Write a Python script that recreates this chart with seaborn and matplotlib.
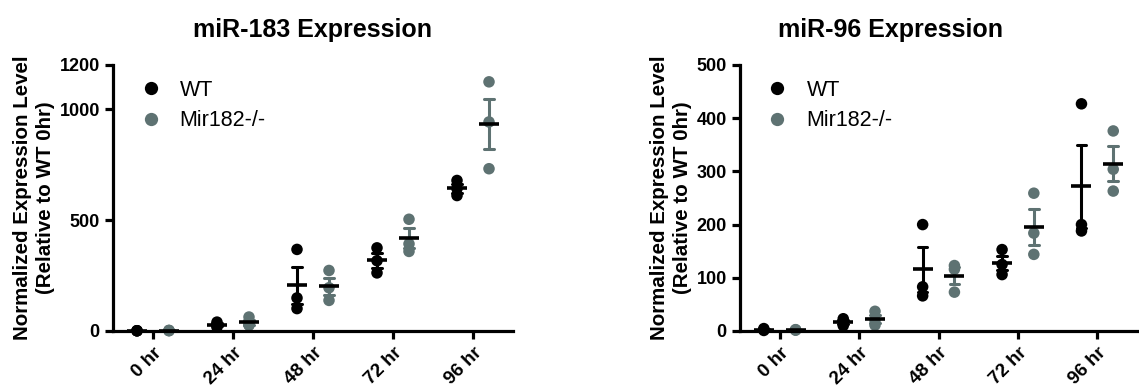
import numpy as np
import pandas as pd
import matplotlib
matplotlib.use("Agg")
import matplotlib.pyplot as plt
import seaborn as sns

times = ["0 hr", "24 hr", "48 hr", "72 hr", "96 hr"]
groups = ["WT", "Mir182-/-"]

# three replicates per time point
mir183_wt = [[1.0, 1.2, 0.8], [40, 30, 17], [368, 149, 101], [375, 317, 262], [679, 642, 611]]
mir183_ko = [[2.5, 1.5, 2.0], [63, 28, 26], [273, 138, 195], [504, 359, 393], [1124, 943, 732]]
mir96_wt = [[4.5, 2.5, 1.0], [23, 18, 10], [200, 83, 66], [153, 125, 106], [427, 200, 188]]
mir96_ko = [[2.0, 1.5, 2.5], [37, 20, 11], [123, 116, 73], [259, 184, 144], [376, 304, 263]]

colors = ["#000000", "#5e7272"]


def to_frame(wt, ko):
    rows = []
    for g, reps in zip(groups, [wt, ko]):
        for t, vals in zip(times, reps):
            for v in vals:
                rows.append((t, g, v))
    return pd.DataFrame(rows, columns=["time", "group", "value"])


def panel(ax, df, title, ymax, yticks, title_x):
    sns.stripplot(data=df, x="time", y="value", hue="group", hue_order=groups,
                  order=times, palette=colors, dodge=True, jitter=False, size=8.3,
                  clip_on=False, zorder=2, ax=ax)
    sns.pointplot(data=df, x="time", y="value", hue="group", hue_order=groups,
                  order=times, palette=colors, dodge=0.4, errorbar="se",
                  markers="", linestyles="none", capsize=0.12,
                  err_kws={"linewidth": 2.2}, legend=False, ax=ax)
    sns.pointplot(data=df, x="time", y="value", hue="group", hue_order=groups,
                  order=times, palette=["black", "black"], dodge=0.4, errorbar=None,
                  markers="_", markersize=15, markeredgewidth=2.6,
                  linestyles="none", legend=False, ax=ax)
    for ln in ax.lines:
        ln.set_clip_on(False)
    ax.set_xlim(-0.5, 4.5)
    ax.set_ylim(0, ymax)
    ax.set_yticks(yticks)
    ax.set_xlabel("")
    ax.set_ylabel("Normalized Expression Level\n(Relative to WT 0hr)",
                  fontsize=14.8, fontweight="bold", linespacing=1.3, labelpad=3)
    ax.set_title(title, fontsize=18, fontweight="bold", pad=20, x=title_x)
    sns.despine(ax=ax)
    for s in ["left", "bottom"]:
        ax.spines[s].set_linewidth(2.3)
        ax.spines[s].set_color("black")
    ax.tick_params(axis="both", width=2.3, length=6, colors="black")
    ax.tick_params(axis="y", labelsize=13)
    ax.tick_params(axis="x", labelsize=13.5)
    for lab in ax.get_yticklabels():
        lab.set_fontweight("bold")
    for lab in ax.get_xticklabels():
        lab.set_fontweight("bold")
        lab.set_rotation(45)
        lab.set_ha("right")
        lab.set_rotation_mode("anchor")
    sns.move_legend(ax, "upper left", bbox_to_anchor=(0.07, 0.945), frameon=False,
                    title=None, fontsize=15.5, handlelength=0.9, handletextpad=0.9,
                    labelspacing=0.45, borderpad=0, borderaxespad=0, markerscale=1.15)


sns.set_style("ticks", rc={"text.color": "black", "axes.labelcolor": "black",
                           "xtick.color": "black", "ytick.color": "black",
                           "axes.edgecolor": "black"})
plt.rcParams["font.family"] = ["Liberation Sans", "DejaVu Sans"]

fig = plt.figure(figsize=(11.39, 3.91), dpi=100)
ax1 = fig.add_axes([0.0992, 0.1535, 0.3512, 0.6803])
ax2 = fig.add_axes([0.6497, 0.1535, 0.3486, 0.6803])

panel(ax1, to_frame(mir183_wt, mir183_ko), "miR-183 Expression", 1200, [0, 500, 1000, 1200], 0.5)
panel(ax2, to_frame(mir96_wt, mir96_ko), "miR-96 Expression", 500, [0, 100, 200, 300, 400, 500], 0.38)

fig.savefig("out.png", dpi=100)
